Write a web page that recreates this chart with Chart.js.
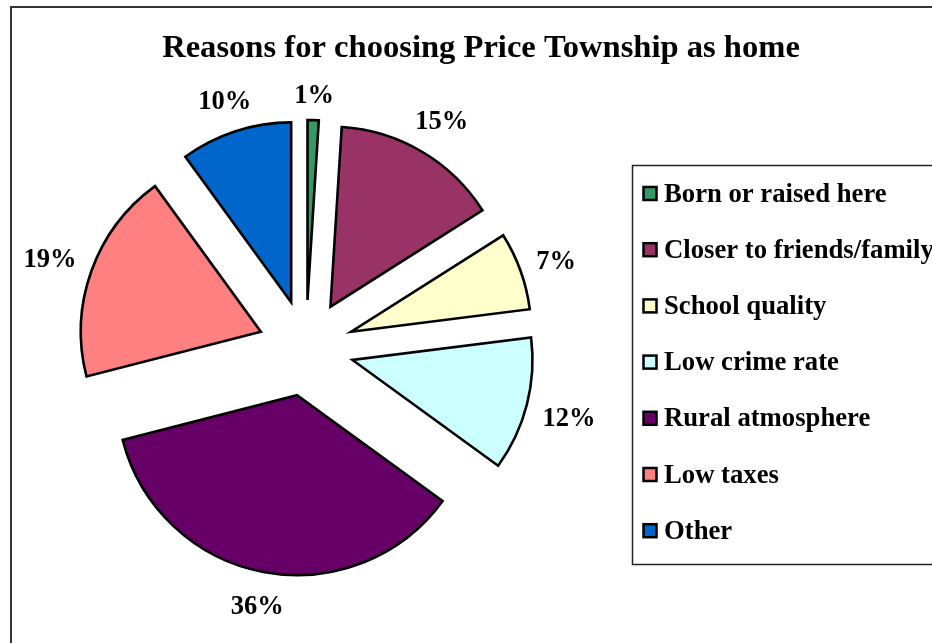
<!DOCTYPE html>
<html>
<head>
<meta charset="utf-8">
<script src="https://cdn.jsdelivr.net/npm/chart.js@4/dist/chart.umd.min.js"></script>
<style>
  html, body { margin: 0; padding: 0; background: #fff; overflow: hidden; }
</style>
</head>
<body>
<canvas id="reasons-pie" width="932" height="643"></canvas>
<script>
const titleText = "Reasons for choosing Price Township as home";
const reasons = [
  "Born or raised here",
  "Closer to friends/family",
  "School quality",
  "Low crime rate",
  "Rural atmosphere",
  "Low taxes",
  "Other",
];
const percents = [1, 15, 7, 12, 36, 19, 10];
const sliceColors = ["#339966", "#993366", "#FFFFCC", "#CCFFFF", "#660066", "#FF8080", "#0066CC"];

const SERIF = "'Liberation Serif', 'Times New Roman', serif";
const EXPLODE = 48; // how far every slice is pulled out of the pie

// pull each slice out along its own middle angle
const explodeSlices = {
  id: "explodeSlices",
  afterDatasetsUpdate(chart) {
    chart.getDatasetMeta(0).data.forEach((arc) => {
      const mid = (arc.startAngle + arc.endAngle) / 2;
      arc.x += Math.cos(mid) * EXPLODE;
      arc.y += Math.sin(mid) * EXPLODE;
    });
  },
};

// "xx%" just outside each slice
const percentLabels = {
  id: "percentLabels",
  afterDatasetsDraw(chart) {
    const ctx = chart.ctx;
    ctx.save();
    ctx.font = "bold 26.5px " + SERIF;
    ctx.fillStyle = "#000";
    ctx.textAlign = "center";
    ctx.textBaseline = "middle";
    chart.getDatasetMeta(0).data.forEach((arc, i) => {
      const mid = (arc.startAngle + arc.endAngle) / 2;
      const dx = Math.cos(mid);
      const dy = Math.sin(mid);
      const text = percents[i] + "%";
      const w = ctx.measureText(text).width;
      const r = arc.outerRadius + 15 + Math.abs(dx) * w / 2 + Math.abs(dy) * 12;
      // +4: serif glyphs sit high on a "middle" baseline
      ctx.fillText(text, arc.x + dx * r, arc.y + dy * r + 4);
    });
    ctx.restore();
  },
};

// outer frame, title and the boxed legend on the right
const frameTitleLegend = {
  id: "frameTitleLegend",
  afterDraw(chart) {
    const ctx = chart.ctx;
    ctx.save();
    ctx.strokeStyle = "#333";
    ctx.lineWidth = 2;
    ctx.strokeRect(11, 7, 1000, 1000);

    ctx.fillStyle = "#000";
    ctx.font = "bold 32.6px " + SERIF;
    ctx.textAlign = "center";
    ctx.textBaseline = "alphabetic";
    ctx.fillText(titleText, 481, 57);

    ctx.lineWidth = 1.5;
    ctx.strokeStyle = "#222";
    ctx.strokeRect(632.5, 165.5, 400, 399);

    ctx.font = "bold 26.7px " + SERIF;
    ctx.textAlign = "left";
    ctx.textBaseline = "alphabetic";
    reasons.forEach((name, i) => {
      const y = 193.5 + i * 56.2;
      ctx.fillStyle = sliceColors[i];
      ctx.fillRect(643.5, y - 6.5, 13, 13);
      ctx.lineWidth = 2.5;
      ctx.strokeStyle = "#000";
      ctx.strokeRect(643.5, y - 6.5, 13, 13);
      ctx.fillStyle = "#000";
      ctx.fillText(name, 664, y + 8);
    });
    ctx.restore();
  },
};

new Chart(document.getElementById("reasons-pie"), {
  type: "pie",
  data: {
    labels: reasons,
    datasets: [
      {
        data: percents,
        backgroundColor: sliceColors,
        borderColor: "#000",
        borderWidth: 2.6,
        borderJoinStyle: "miter",
        radius: 180,
        offset: 0,
        hoverOffset: 0,
      },
    ],
  },
  options: {
    responsive: false,
    animation: false,
    events: [],
    layout: {
      padding: { left: 0, right: 320, top: 53, bottom: 0 },
    },
    plugins: {
      legend: { display: false },
      title: { display: false },
      tooltip: { enabled: false },
    },
  },
  plugins: [explodeSlices, percentLabels, frameTitleLegend],
});
</script>
</body>
</html>
